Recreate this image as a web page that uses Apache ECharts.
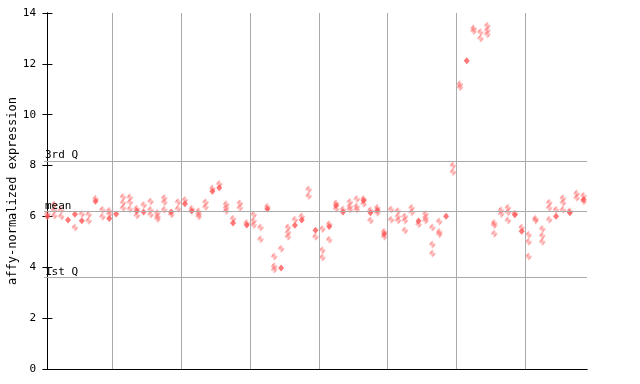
<!DOCTYPE html>
<html>
<head>
<meta charset="utf-8">
<script src="https://cdn.jsdelivr.net/npm/echarts@6/dist/echarts.min.js"></script>
<style>html,body{margin:0;padding:0;background:#fff}#c{width:640px;height:384px}</style>
</head>
<body>
<div id="c"></div>
<script>
// Replicate values per sample column (checkered diamonds)
const hollowValues = [
  [6.1],[6.47,6.25,6.03],[6.25,6.0],[],[5.56],[6.1],[6.08,5.83],[6.7],[6.26,5.99],[6.22,6.1],
  [],[6.76,6.54,6.33],[6.75,6.56,6.29],[6.3,6.04],[6.45],[6.59,6.26,6.08],[6.13,6.0,5.9],[6.72,6.56,6.26],[6.08],[6.57,6.3],
  [6.65],[6.3],[6.2,6.1,6.0],[6.56,6.37],[7.1],[7.28],[6.48,6.34,6.21],[5.91],[6.52,6.34],[5.74],
  [6.07,5.83,5.66],[5.56,5.1],[6.38],[4.42,4.04,3.91],[4.73],[5.57,5.37,5.2],[5.87],[6.0],[7.06,6.8],[5.2],
  [5.51,4.67,4.38],[5.69,5.08],[6.52,6.3],[6.27],[6.57,6.39,6.27],[6.69,6.39,6.27],[6.69,6.5],[6.24,5.84],[6.34,6.14],[5.4,5.2],
  [6.27,5.87],[6.21,6.0,5.84],[6.0,5.84,5.45],[6.34,6.16],[5.69],[6.1,5.95,5.84],[5.56,4.9,4.54],[5.8,5.39,5.3],[],[8.0,7.75],
  [11.2,11.08],[],[13.4,13.29],[13.24,13.0],[13.5,13.32,13.16],[5.74,5.65,5.32],[6.24,6.1],[6.34,6.16,5.84],[6.12],[5.56],
  [5.28,5.0,4.42],[5.91,5.84],[5.51,5.24,5.0],[6.54,6.34,5.87],[6.26],[6.71,6.54,6.26],[6.2],[6.9,6.73],[6.81,6.6]
];
// Solid diamonds per sample column (null = none)
const filledValues = [
  6.0,null,null,5.86,6.09,5.83,null,6.6,null,5.92,
  6.1,null,null,6.21,6.17,null,null,null,6.17,null,
  6.5,6.21,null,null,6.99,7.13,null,5.74,null,5.66,
  null,null,6.29,null,3.97,null,5.65,5.86,null,5.46,
  null,5.6,6.43,6.17,null,null,6.63,6.14,6.24,5.31,
  null,null,null,null,5.82,null,null,null,6.01,null,
  null,12.12,null,null,null,null,null,null,6.07,5.42,
  null,null,null,null,6.01,null,6.14,null,6.67
];
const groupBounds = [9.5,19.5,29.5,39.5,49.5,59.5,69.5];
const refLines = [{name:'3rd Q', value:8.18},{name:'mean', value:6.2},{name:'1st Q', value:3.6}];
const yTicks = {min:0, max:14, interval:2};
const nCols = hollowValues.length;

const red = '#ff5555';
const pat = document.createElement('canvas');
pat.width = 2; pat.height = 2;
const pc = pat.getContext('2d');
pc.fillStyle = red;
pc.fillRect(0,0,1,1); pc.fillRect(1,1,1,1);

const hollowData = [];
hollowValues.forEach((arr,i)=>arr.forEach(v=>hollowData.push([i,v])));
const filledData = [];
filledValues.forEach((v,i)=>{ if(v!==null) filledData.push([i,v]); });

const mono = 'DejaVu Sans Mono';
const chart = echarts.init(document.getElementById('c'), null, {renderer:'canvas'});
const yBase = {
  type:'value', min:yTicks.min, max:yTicks.max, interval:yTicks.interval,
  axisLine:{show:true, lineStyle:{color:'#000', width:1}},
  axisTick:{show:true, inside:true, length:5, lineStyle:{color:'#000'}},
  splitLine:{show:false}
};
chart.setOption({
  animation:false,
  backgroundColor:'#fff',
  grid:{left:44, right:53, top:13, bottom:15, containLabel:false, outerBoundsMode:'none'},
  xAxis:[
    {type:'value', min:-0.5, max:nCols-0.5, axisLine:{show:true,lineStyle:{color:'#000'}}, axisTick:{show:false}, axisLabel:{show:false}, splitLine:{show:false}},
    {type:'value', position:'top', min:-0.5, max:nCols-0.5, axisLine:{show:true,lineStyle:{color:'#000'}}, axisTick:{show:false}, axisLabel:{show:false}, splitLine:{show:false}}
  ],
  yAxis:[
    Object.assign({}, yBase, {position:'left', name:'affy-normalized expression', nameLocation:'middle', nameRotate:90, nameGap:25,
      nameMoveOverlap:false,
      nameTextStyle:{fontFamily:mono, fontSize:12, color:'#000'},
      axisLabel:{show:true, margin:8, fontFamily:mono, fontSize:11, color:'#000'}}),
    Object.assign({}, yBase, {position:'right', axisLabel:{show:false}})
  ],
  series:[
    {
      type:'scatter', data:[], z:1, silent:true,
      markLine:{
        silent:true, symbol:'none', animation:false,
        lineStyle:{color:'#aaaaaa', width:1, type:'solid'},
        label:{show:false},
        data: groupBounds.map(b=>({xAxis:b}))
          .concat(refLines.map(r=>({yAxis:r.value, name:r.name,
            label:{show:true, formatter:r.name, position:'insideStartTop', distance:[1,0], color:'#000', fontFamily:mono, fontSize:11}})))
      }
    },
    {
      type:'scatter', data:hollowData, symbol:'diamond', symbolSize:[7,8], z:3,
      itemStyle:{color:{image:pat, repeat:'repeat'}}
    },
    {
      type:'scatter', data:filledData, symbol:'diamond', symbolSize:[6,7], z:4,
      itemStyle:{color:red}
    }
  ]
});
</script>
</body>
</html>
